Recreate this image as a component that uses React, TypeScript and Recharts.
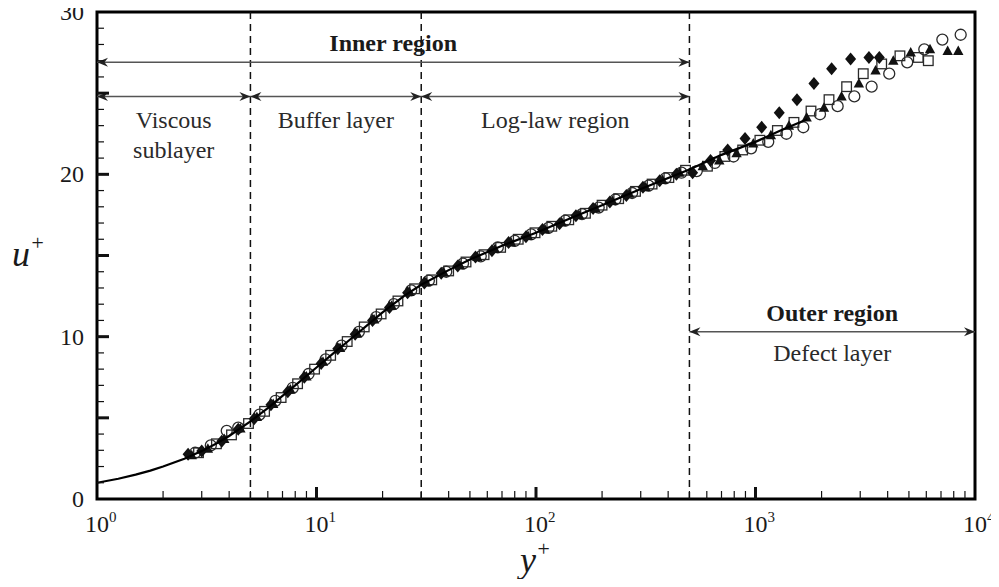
import React from 'react'
import { ScatterChart, Scatter, XAxis, YAxis, ReferenceLine, ReferenceArea } from 'recharts'

const serif = '"Liberation Serif", "Times New Roman", serif'
const ink = '#1a1a1a'

// reference law-of-the-wall curve (y+, u+)
const lawYPlus = [1, 1.25, 1.5, 1.75, 2, 2.5, 3, 3.5, 4, 5, 6, 7, 8, 10, 12, 14, 17, 20, 25, 30, 40, 50, 70, 100, 150, 200, 300, 500, 700, 1000, 1300, 1720]
const lawUPlus = [1.0, 1.25, 1.5, 1.75, 2.0, 2.48, 2.95, 3.42, 3.88, 4.78, 5.6, 6.35, 7.0, 8.1, 9.0, 9.75, 10.7, 11.5, 12.5, 13.2, 14.1, 14.75, 15.6, 16.4, 17.4, 18.1, 19.1, 20.3, 21.2, 22.0, 22.7, 23.4]

// measured profiles [y+, u+]
const diamondPts = [
  [2.6, 2.75], [3.0, 2.95], [3.7, 3.55], [4.4, 4.3], [5.2, 4.95], [6.2, 5.8], [7.4, 6.6], [8.8, 7.5], [10.5, 8.35], [12.5, 9.25],
  [15, 10.15], [18, 11.0], [21.5, 11.8], [26, 12.7], [31, 13.3], [37, 13.9], [44, 14.35], [53, 14.9], [63, 15.3], [75, 15.8],
  [90, 16.15], [107, 16.6], [128, 16.95], [152, 17.45], [182, 17.9], [217, 18.3], [258, 18.7], [307, 19.2], [366, 19.6], [436, 20.0],
  [517, 20.1], [624, 20.85], [747, 21.5], [896, 22.2], [1067, 22.9], [1283, 23.8], [1545, 24.6], [1846, 25.6], [2222, 26.5],
  [2712, 27.1], [3287, 27.2], [3665, 27.2],
]
const circlePts = [
  [2.8, 2.85], [3.3, 3.3], [3.9, 4.2], [4.4, 4.4], [5.5, 5.2], [6.5, 6.05], [7.8, 6.85], [9.2, 7.7], [11, 8.6], [13, 9.45],
  [15.6, 10.3], [18.7, 11.2], [22.5, 12.0], [27, 12.85], [32.5, 13.45], [39, 14.0], [46.5, 14.5], [56, 14.95], [67, 15.5], [80, 15.9],
  [95, 16.3], [114, 16.7], [136, 17.15], [162, 17.55], [193, 17.95], [230, 18.45], [274, 18.85], [326, 19.3], [389, 19.75], [460, 20.1],
  [540, 20.2], [653, 20.7], [794, 21.1], [955, 21.6], [1143, 22.0], [1383, 22.5], [1651, 22.9], [1967, 23.7], [2367, 24.2],
  [2820, 24.8], [3381, 25.4], [4067, 26.2], [4911, 26.9], [5875, 27.7], [7100, 28.3], [8605, 28.6],
]
const squarePts = [
  [2.9, 2.85], [3.5, 3.4], [4.1, 3.95], [4.9, 4.65], [5.8, 5.4], [6.9, 6.25], [8.2, 7.1], [9.8, 8.0], [11.6, 8.85], [13.8, 9.7],
  [16.5, 10.6], [19.7, 11.4], [23.5, 12.2], [28, 12.95], [33.5, 13.5], [40, 14.05], [48, 14.6], [58, 15.05], [69, 15.5], [83, 16.0],
  [99, 16.4], [118, 16.8], [141, 17.2], [168, 17.6], [200, 18.1], [238, 18.5], [284, 18.95], [338, 19.4], [403, 19.8], [480, 20.25],
  [604, 20.5], [725, 21.1], [874, 21.5], [1047, 22.1], [1258, 22.7], [1497, 23.2], [1790, 23.9], [2162, 24.6], [2601, 25.4],
  [3097, 26.2], [3757, 26.8], [4550, 27.3], [5517, 27.2], [6127, 27.0],
]
const trianglePts = [
  [2.7, 2.7], [3.2, 3.1], [3.8, 3.7], [4.5, 4.35], [5.35, 5.05], [6.35, 5.85], [7.6, 6.75], [9.0, 7.55], [10.7, 8.45], [12.8, 9.3],
  [15.3, 10.2], [18.3, 11.05], [22, 11.9], [26.5, 12.75], [31.5, 13.35], [38, 13.95], [45, 14.4], [54, 14.9], [65, 15.4], [77, 15.8],
  [92, 16.2], [110, 16.6], [131, 17.05], [157, 17.5], [187, 17.9], [223, 18.35], [266, 18.8], [316, 19.2], [377, 19.65], [450, 20.1],
  [575, 20.5], [684, 20.85], [820, 21.3], [977, 21.9], [1175, 22.4], [1420, 23.0], [1710, 23.5], [2051, 24.1], [2466, 24.8],
  [2958, 25.6], [3523, 26.4], [4244, 27.0], [5094, 27.5], [6237, 27.7], [7506, 27.6], [8390, 27.6],
]

const regionBounds = [5, 30, 500]
const xTicks = [1, 2, 3, 4, 5, 6, 7, 8, 9, 10, 20, 30, 40, 50, 60, 70, 80, 90, 100, 200, 300, 400, 500, 600, 700, 800, 900,
  1000, 2000, 3000, 4000, 5000, 6000, 7000, 8000, 9000, 10000]
const yTicks = Array.from({ length: 31 }, (_, i) => i)

const rows = (pts: number[][]) => pts.map(([x, y]) => ({ x, y }))
const lawRows = lawYPlus.map((x, i) => ({ x, y: lawUPlus[i] }))

const OpenCircle = ({ cx, cy }: any) => <circle cx={cx} cy={cy} r={5.5} fill="none" stroke="#2a2a2a" strokeWidth={1.3} />
const Diamond = ({ cx, cy }: any) => (
  <path d={`M${cx},${cy - 6.5}L${cx + 5.5},${cy}L${cx},${cy + 6.5}L${cx - 5.5},${cy}Z`} fill="#111" />
)
const OpenSquare = ({ cx, cy }: any) => (
  <rect x={cx - 4.8} y={cy - 4.8} width={9.6} height={9.6} fill="none" stroke="#2a2a2a" strokeWidth={1.3} />
)
const Triangle = ({ cx, cy }: any) => (
  <path d={`M${cx},${cy - 5.5}L${cx + 5.2},${cy + 4}L${cx - 5.2},${cy + 4}Z`} fill="#111" />
)

const head = (x: number, y: number, dir: number) =>
  `M${x},${y}L${x - dir * 11},${y - 4.5}L${x - dir * 7.5},${y}L${x - dir * 11},${y + 4.5}Z`

const spanShape = (title: string | null, lines: string[], firstOff: number) => (p: any) => {
  const { x1, x2, y1 } = p
  const cx = (x1 + x2) / 2
  return (
    <g>
      <line x1={x1} x2={x2} y1={y1} y2={y1} stroke="#555" strokeWidth={1.5} />
      <path d={head(x1, y1, -1)} fill="#222" />
      <path d={head(x2, y1, 1)} fill="#222" />
      {title && (
        <text x={cx} y={y1 - 11} textAnchor="middle" fontWeight="bold" fontSize={24} fontFamily={serif} fill={ink}>
          {title}
        </text>
      )}
      {lines.map((t, i) => (
        <text key={t} x={cx} y={y1 + firstOff + i * 30} textAnchor="middle" fontSize={24} fontFamily={serif} fill="#2a2a2a">
          {t}
        </text>
      ))}
    </g>
  )
}

const renderXTick = ({ x, y, payload }: any) => {
  const v = payload.value
  const lg = Math.log10(v)
  const exp = Math.round(lg)
  const major = Math.abs(lg - exp) < 1e-9
  const edge = v === 1 || v === 10000
  return (
    <g>
      {!edge && <line x1={x} x2={x} y1={y} y2={y - (major ? 12 : 8)} stroke="#111" strokeWidth={major ? 3 : 1.2} />}
      {major && (
        <text x={x - 12} y={y + 33} fontSize={24} fontFamily={serif} fill={ink}>
          10<tspan fontSize={15} dy={-10}>{exp}</tspan>
        </text>
      )}
    </g>
  )
}

const renderYTick = ({ x, y, payload }: any) => {
  const v = payload.value
  const major = v % 5 === 0
  return (
    <g>
      {v > 0 && v < 30 && <line x1={x} x2={x + (major ? 12 : 7)} y1={y} y2={y} stroke="#111" strokeWidth={major ? 3 : 1.2} />}
      {v % 10 === 0 && (
        <text x={x - 13} y={y + 8} textAnchor="end" fontSize={24} fontFamily={serif} fill={ink}>
          {v}
        </text>
      )}
    </g>
  )
}

export default function App() {
  return (
    <div style={{ width: 999, height: 587, margin: -8 }}>
      <ScatterChart width={999} height={587} margin={{ top: 12, right: 24, left: 0, bottom: 0 }}>
        <XAxis
          dataKey="x"
          type="number"
          scale="log"
          domain={[1, 10000]}
          ticks={xTicks}
          interval={0}
          allowDataOverflow
          axisLine={false}
          tickLine={false}
          tickSize={0}
          tickMargin={0}
          tick={renderXTick}
          height={88}
          label={{
            content: ({ viewBox }: any) => (
              <text x={viewBox.x + viewBox.width / 2 - 16} y={viewBox.y + 73} fontSize={36} fontStyle="italic" fontFamily={serif} fill={ink}>
                y<tspan fontSize={22} dy={-16}>+</tspan>
              </text>
            ),
          }}
        />
        <YAxis
          dataKey="y"
          type="number"
          domain={[0, 30]}
          ticks={yTicks}
          interval={0}
          allowDataOverflow
          axisLine={false}
          tickLine={false}
          tickSize={0}
          tickMargin={0}
          tick={renderYTick}
          width={97}
          label={{
            content: ({ viewBox }: any) => (
              <text x={viewBox.x + 12} y={viewBox.y + viewBox.height / 2 + 10} fontSize={36} fontStyle="italic" fontFamily={serif} fill={ink}>
                u<tspan fontSize={22} dy={-16}>+</tspan>
              </text>
            ),
          }}
        />
        {regionBounds.map((b) => (
          <ReferenceLine key={b} x={b} stroke="#111" strokeWidth={1.5} strokeDasharray="7 5" ifOverflow="visible" />
        ))}
        <ReferenceLine segment={[{ x: 1, y: 26.9 }, { x: 500, y: 26.9 }]} ifOverflow="visible" shape={spanShape('Inner region', [], 0)} />
        <ReferenceLine segment={[{ x: 1, y: 24.8 }, { x: 5, y: 24.8 }]} ifOverflow="visible" shape={spanShape(null, ['Viscous', 'sublayer'], 32)} />
        <ReferenceLine segment={[{ x: 5, y: 24.8 }, { x: 30, y: 24.8 }]} ifOverflow="visible" shape={spanShape(null, ['Buffer layer'], 32)} />
        <ReferenceLine segment={[{ x: 30, y: 24.8 }, { x: 500, y: 24.8 }]} ifOverflow="visible" shape={spanShape(null, ['Log-law region'], 32)} />
        <ReferenceLine segment={[{ x: 500, y: 10.3 }, { x: 10000, y: 10.3 }]} ifOverflow="visible" shape={spanShape('Outer region', ['Defect layer'], 29)} />
        <Scatter data={rows(circlePts)} shape={OpenCircle} isAnimationActive={false} />
        <Scatter data={rows(squarePts)} shape={OpenSquare} isAnimationActive={false} />
        <Scatter data={rows(trianglePts)} shape={Triangle} isAnimationActive={false} />
        <Scatter data={rows(diamondPts)} shape={Diamond} isAnimationActive={false} />
        <Scatter data={lawRows} shape={() => <g />} line={{ stroke: '#000', strokeWidth: 2.2 }} lineType="joint" isAnimationActive={false} />
        <ReferenceArea x1={1} x2={10000} y1={0} y2={30} fill="none" stroke="#000" strokeWidth={3} ifOverflow="visible" />
      </ScatterChart>
    </div>
  )
}
